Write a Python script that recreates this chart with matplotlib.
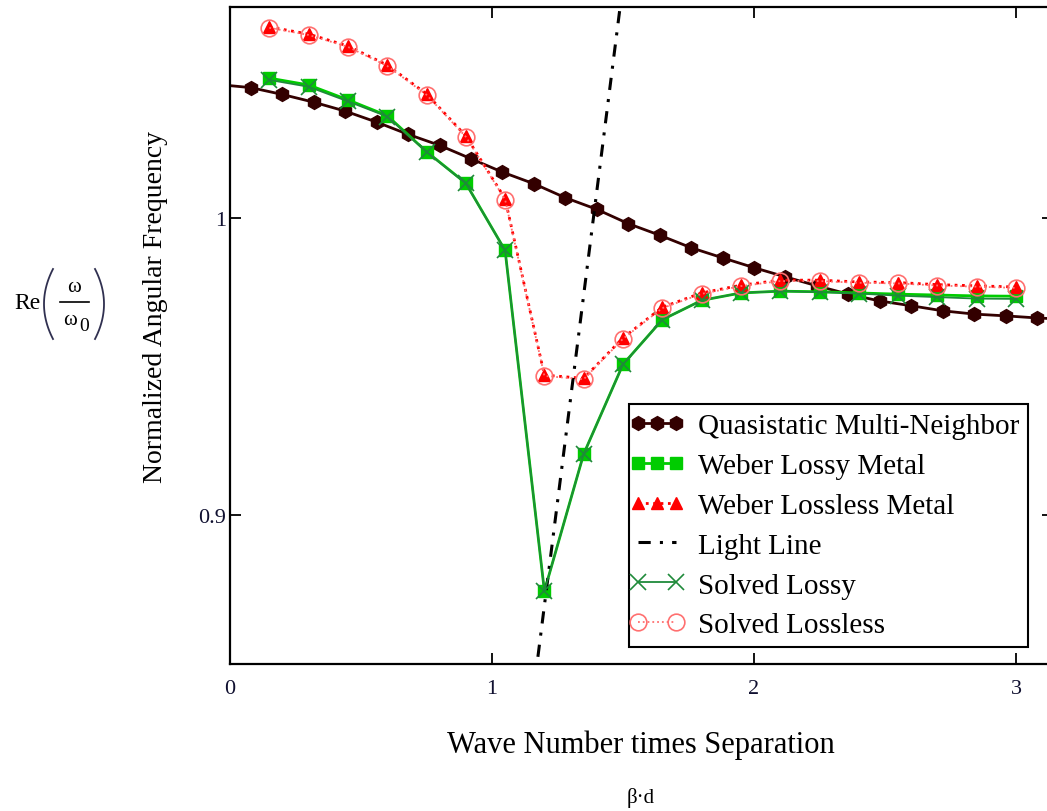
import numpy as np
import matplotlib
matplotlib.use('Agg')
import matplotlib.pyplot as plt
from matplotlib.legend_handler import HandlerLine2D

plt.rcParams['font.family'] = ['Liberation Serif', 'DejaVu Serif']

# quasistatic multi-neighbour curve (line runs past both edges)
bd_qs = [-0.04, 0.08, 0.20, 0.32, 0.44, 0.56, 0.68, 0.80, 0.92, 1.04, 1.16,
         1.28, 1.40, 1.52, 1.64, 1.76, 1.88, 2.00, 2.12, 2.24, 2.36, 2.48,
         2.60, 2.72, 2.84, 2.96, 3.08, 3.20]
w_qs = [1.0447, 1.0437, 1.0414, 1.0388, 1.0358, 1.0321, 1.0280, 1.0243,
        1.0198, 1.0153, 1.0114, 1.0067, 1.0028, 0.9980, 0.9941, 0.9899,
        0.9865, 0.9832, 0.9801, 0.9771, 0.9743, 0.9720, 0.9704, 0.9687,
        0.9676, 0.9670, 0.9663, 0.9658]

bd = [0.15, 0.30, 0.45, 0.60, 0.75, 0.90, 1.05, 1.20, 1.35, 1.50,
      1.65, 1.80, 1.95, 2.10, 2.25, 2.40, 2.55, 2.70, 2.85, 3.00]

w_weber_lossy = [1.0469, 1.0446, 1.0396, 1.0343, 1.0222, 1.0116, 0.9890,
                 0.8745, 0.9206, 0.9507, 0.9657, 0.9722, 0.9747, 0.9753,
                 0.9751, 0.9747, 0.9743, 0.9740, 0.9737, 0.9736]
w_solved_lossy = [1.0463, 1.0440, 1.0391, 1.0340, 1.0221, 1.0115, 0.9890,
                  0.8745, 0.9206, 0.9507, 0.9657, 0.9722, 0.9747, 0.9753,
                  0.9750, 0.9745, 0.9738, 0.9733, 0.9728, 0.9727]

w_weber_lossless = [1.0641, 1.0617, 1.0577, 1.0513, 1.0416, 1.0275, 1.0064,
                    0.9471, 0.9460, 0.9596, 0.9699, 0.9747, 0.9773, 0.9790,
                    0.9790, 0.9784, 0.9782, 0.9775, 0.9771, 0.9767]
w_solved_lossless = [1.0638, 1.0614, 1.0574, 1.0510, 1.0413, 1.0272, 1.0061,
                     0.9468, 0.9457, 0.9593, 0.9696, 0.9744, 0.9770, 0.9787,
                     0.9787, 0.9781, 0.9779, 0.9772, 0.9768, 0.9764]

# light line end points
bd_light = [1.143, 1.5065]
w_light = [0.8300, 1.0830]

fig = plt.figure(figsize=(10.47, 8.12), dpi=100)
W, H = 1047., 812.
x0, x1 = 230., 230. + 3.14 * 262.
ax = fig.add_axes([x0 / W, 1 - 665 / H, (x1 - x0) / W, (665 - 8) / H])

l_qs, = ax.plot(bd_qs, w_qs, color='#330000', lw=2, marker='h', ms=10,
                label='Quasistatic Multi-Neighbor')
l_wl, = ax.plot(bd, w_weber_lossy, color='#00cc00', lw=2, marker='s', ms=9,
                label='Weber Lossy Metal')
l_wll, = ax.plot(bd, w_weber_lossless, color='red', lw=2, ls=':', marker='^',
                 ms=9, label='Weber Lossless Metal')
l_light, = ax.plot(bd_light, w_light, color='black', lw=2.2,
                   ls=(0, (4, 3, 1, 3)), label='Light Line')
l_sl, = ax.plot(bd, w_solved_lossy, color='#1f8a3a', lw=1.3, marker='x',
                ms=12, mew=1.2, label='Solved Lossy')
l_sll, = ax.plot(bd, w_solved_lossless, color='#ff7070', lw=1.3, ls=':',
                 marker='o', ms=12, mfc='none', mew=1.2,
                 label='Solved Lossless')

ax.set_xlim(0, 3.14)
ax.set_ylim(0.85, 1.0708)
ax.set_xticks([0, 1, 2, 3])
ax.set_xticklabels(['0', '1', '2', '3'])
ax.set_yticks([0.9, 1.0])
ax.set_yticklabels(['0.9', '1'])
ax.tick_params(direction='in', length=8, width=1.3, top=True, right=True,
               labelsize=16, labelcolor='#101030')
ax.tick_params(axis='x', pad=11)
ax.tick_params(axis='y', pad=3)
for s in ax.spines.values():
    s.set_linewidth(1.6)

fig.text(155 / W, 1 - 307 / H, 'Normalized Angular Frequency', rotation=90,
         ha='center', va='center', fontsize=20)

# Re(omega / omega_0), built from pieces like the Mathcad label
fig.text(27 / W, 1 - 304 / H, 'Re', ha='center', va='center', fontsize=17)
t = np.linspace(-1, 1, 40)
py = 1 - (305 + 35 * t) / H
fig.add_artist(plt.Line2D((44 + 9 * t**2) / W, py, color='#303050', lw=1.3))
fig.add_artist(plt.Line2D((104 - 9 * t**2) / W, py, color='#303050', lw=1.3))
fig.text(74 / W, 1 - 288 / H, 'ω', ha='center', va='center', fontsize=15)
fig.text(70 / W, 1 - 321 / H, 'ω', ha='center', va='center', fontsize=15)
fig.text(84 / W, 1 - 327 / H, '0', ha='center', va='center', fontsize=14)
fig.add_artist(plt.Line2D([60 / W, 89 / W], [1 - 303 / H, 1 - 303 / H],
                          color='black', lw=1.2))

fig.text(641 / W, 1 - 745 / H, 'Wave Number times Separation',
         ha='center', va='center', fontsize=22)
fig.text(641 / W, 1 - 798 / H, 'β·d',
         ha='center', va='center', fontsize=15)

hm = {l_qs: HandlerLine2D(numpoints=3, marker_pad=0),
      l_wl: HandlerLine2D(numpoints=3, marker_pad=0),
      l_wll: HandlerLine2D(numpoints=3, marker_pad=0),
      l_light: HandlerLine2D(numpoints=2, marker_pad=0),
      l_sl: HandlerLine2D(numpoints=2, marker_pad=0),
      l_sll: HandlerLine2D(numpoints=2, marker_pad=0)}
leg = ax.legend(handler_map=hm, loc='upper left',
                bbox_to_anchor=(629 / W, 1 - 405 / H),
                bbox_transform=fig.transFigure, borderaxespad=0,
                fontsize=21, frameon=True, fancybox=False, framealpha=1,
                edgecolor='black', handlelength=1.3, handletextpad=0.75,
                labelspacing=0.46, borderpad=0.3)
leg.get_frame().set_linewidth(1.5)

fig.savefig('out.png', dpi=100)
